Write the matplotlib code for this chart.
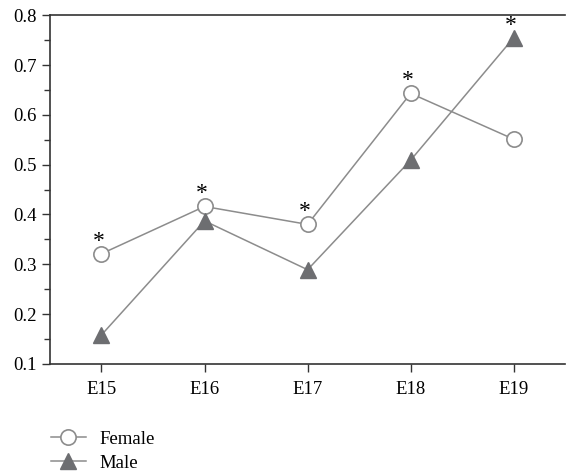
import matplotlib
matplotlib.use("Agg")
import matplotlib.pyplot as plt
from matplotlib.ticker import MultipleLocator

plt.rcParams['font.family'] = ['Liberation Serif', 'DejaVu Serif']

categories = ["E15", "E16", "E17", "E18", "E19"]
female = [0.321, 0.416, 0.380, 0.643, 0.551]
male = [0.158, 0.387, 0.289, 0.509, 0.755]
star_series = ["female", "female", "female", "female", "male"]

fig = plt.figure(figsize=(5.67, 4.75), dpi=100)
ax = fig.add_axes([0.088, 0.234, 0.909, 0.734])

x = list(range(len(categories)))
line_c = '#8c8c8c'
ax.plot(x, female, color=line_c, lw=1.1, marker='o', ms=11, mfc='white',
        mec='#8c8c8c', mew=1.2, label='Female', zorder=3)
ax.plot(x, male, color=line_c, lw=1.1, marker='^', ms=12, mfc='#6d6e71',
        mec='#6d6e71', label='Male', zorder=3)

for i, s in enumerate(star_series):
    yv = female[i] if s == "female" else male[i]
    ax.annotate('*', xy=(x[i], yv), xytext=(-3, 7), textcoords='offset pixels',
                ha='center', va='baseline', fontsize=17)

ax.set_xlim(-0.5, 4.5)
ax.set_ylim(0.1, 0.8)
ax.set_xticks(x)
ax.set_xticklabels(categories)
ax.yaxis.set_major_locator(MultipleLocator(0.1))
ax.yaxis.set_minor_locator(MultipleLocator(0.05))
ax.set_yticklabels([f"{v:.1f}" for v in ax.get_yticks()])
ax.tick_params(axis='both', which='major', labelsize=13.5, length=6, width=1, direction='out', color='#333333')
ax.tick_params(axis='y', which='minor', length=4, width=1, color='#333333')
ax.tick_params(axis='x', pad=6)
ax.spines['right'].set_visible(False)
for sp in ['left', 'top', 'bottom']:
    ax.spines[sp].set_linewidth(1.2)
    ax.spines[sp].set_color('#333333')

leg = fig.legend(loc='upper left', bbox_to_anchor=(0.076, 0.109), frameon=False,
                 fontsize=13.5, handlelength=1.9, labelspacing=0.37, handletextpad=0.72,
                 borderaxespad=0)
fig.savefig('out.png', dpi=100)
